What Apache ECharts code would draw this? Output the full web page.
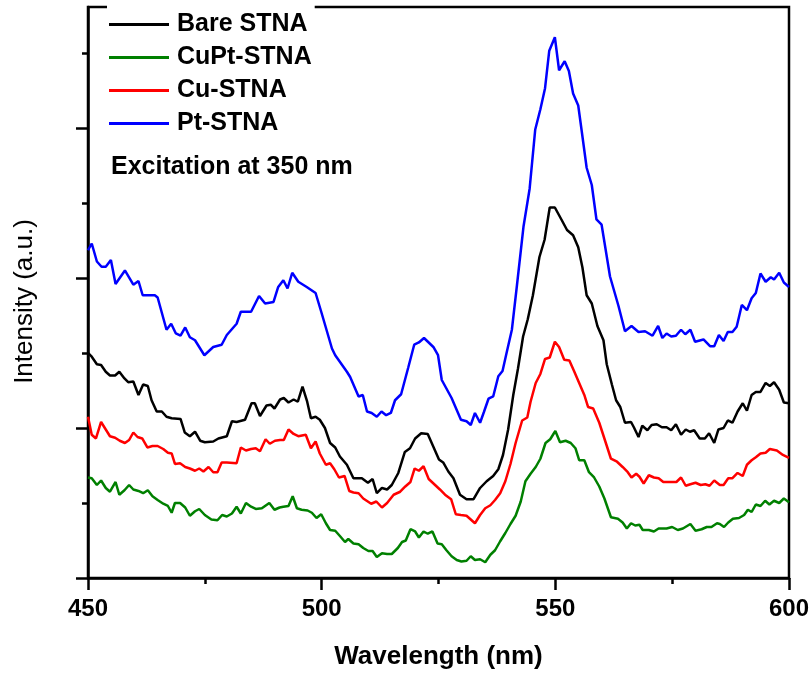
<!DOCTYPE html>
<html>
<head>
    <meta charset="utf-8"/>
    <title>PL spectra</title>
    <script src="https://cdn.jsdelivr.net/npm/echarts@6/dist/echarts.min.js"></script>
    <style>
        html, body { margin: 0; padding: 0; background: #fff; }
        #chart { width: 811px; height: 676px; }
    </style>
</head>
<body>
<div id="chart"></div>
<script>
    // wavelength (nm), intensity (a.u.)
    var bareSTNA = [[450,3.00],[450.8,2.95],[451.9,2.85],[452.8,2.84],[453.8,2.75],[454.7,2.70],[455.8,2.70],[456.7,2.75],[457.8,2.66],[458.6,2.61],[459.7,2.62],[460.8,2.44],[461.8,2.58],[462.8,2.56],[463.6,2.37],[464.7,2.22],[465.8,2.22],[466.8,2.15],[467.9,2.13],[469.8,2.12],[470.7,1.94],[471.8,1.89],[472.9,1.95],[474.0,1.83],[475.0,1.81],[476.8,1.82],[477.9,1.86],[479.7,1.89],[480.8,2.09],[481.8,2.08],[483.6,2.11],[485.0,2.33],[485.7,2.33],[486.8,2.16],[488.2,2.30],[489.1,2.31],[489.9,2.26],[491.1,2.38],[491.9,2.40],[492.9,2.34],[494.0,2.38],[494.9,2.35],[495.9,2.55],[496.9,2.35],[497.7,2.13],[498.7,2.15],[499.6,2.11],[500.7,2.00],[501.8,1.80],[502.9,1.74],[503.9,1.62],[505.4,1.51],[506.8,1.33],[508.6,1.33],[509.9,1.27],[510.9,1.32],[511.8,1.13],[512.9,1.20],[514.0,1.18],[515.0,1.24],[516.4,1.40],[517.8,1.68],[518.9,1.73],[520.0,1.86],[521.3,1.93],[522.7,1.92],[523.9,1.75],[525.1,1.58],[526.0,1.54],[527.1,1.42],[528.2,1.33],[529.6,1.11],[531.0,1.05],[532.5,1.05],[533.9,1.20],[535.3,1.29],[536.7,1.36],[537.8,1.45],[538.8,1.64],[539.9,1.98],[541.0,2.44],[542.0,2.79],[543.1,3.22],[544.1,3.45],[545.2,3.77],[546.6,4.28],[547.7,4.51],[548.8,4.94],[549.9,4.94],[551.3,4.78],[552.5,4.64],[553.8,4.57],[554.9,4.41],[555.8,4.14],[556.7,3.77],[557.8,3.66],[559.0,3.36],[560.3,3.17],[561.0,2.85],[562.1,2.58],[563.0,2.37],[563.9,2.28],[564.9,2.07],[566.2,2.08],[566.8,2.01],[567.8,1.88],[568.6,2.03],[569.7,1.97],[570.6,2.04],[571.7,2.05],[572.8,2.01],[573.8,2.01],[574.8,1.97],[575.8,2.05],[576.9,1.91],[577.9,1.98],[578.8,1.95],[579.7,1.97],[580.9,1.86],[582.0,1.86],[582.9,1.93],[584.0,1.80],[584.9,1.98],[586.0,2.00],[586.9,2.10],[587.9,2.07],[589.0,2.22],[590.1,2.33],[591.0,2.23],[592.0,2.44],[592.9,2.48],[593.9,2.48],[595.0,2.60],[595.9,2.56],[596.8,2.61],[597.9,2.51],[598.9,2.34],[600,2.33]];

    var cuptSTNA = [[450,1.34],[450.8,1.33],[451.9,1.24],[452.8,1.30],[453.8,1.20],[454.7,1.15],[455.9,1.28],[456.7,1.11],[457.8,1.17],[458.8,1.24],[459.7,1.18],[460.8,1.16],[461.8,1.13],[462.8,1.17],[463.8,1.09],[464.9,1.04],[466.1,0.99],[467.1,0.96],[467.9,0.87],[468.6,1.00],[469.7,1.00],[470.8,0.94],[471.8,0.83],[472.9,0.89],[473.8,0.92],[475.0,0.84],[476.4,0.78],[477.7,0.77],[478.7,0.84],[479.7,0.82],[480.8,0.86],[481.8,0.95],[482.7,0.86],[483.8,1.00],[484.9,0.95],[485.9,0.92],[487.2,0.93],[488.8,1.00],[489.9,0.91],[491.0,0.94],[491.8,0.95],[492.9,0.96],[493.8,1.09],[494.7,0.93],[495.7,0.91],[497.0,0.90],[497.9,0.87],[498.9,0.80],[499.9,0.85],[500.9,0.73],[501.8,0.64],[502.9,0.63],[503.9,0.56],[505.0,0.48],[505.7,0.52],[506.8,0.46],[507.9,0.45],[508.9,0.40],[510.0,0.36],[510.9,0.36],[511.8,0.28],[512.9,0.33],[514.0,0.32],[515.0,0.32],[516.3,0.40],[517.2,0.48],[518.0,0.50],[519.0,0.65],[520.0,0.62],[520.8,0.54],[521.8,0.62],[522.7,0.59],[523.7,0.62],[524.8,0.46],[525.7,0.45],[526.7,0.37],[527.8,0.29],[528.9,0.24],[529.9,0.22],[531.0,0.23],[531.9,0.29],[532.8,0.24],[533.9,0.25],[535.0,0.21],[536.1,0.31],[537.1,0.37],[538.2,0.49],[539.3,0.60],[540.4,0.72],[541.5,0.83],[542.6,1.02],[543.6,1.29],[544.7,1.39],[545.8,1.48],[546.8,1.59],[547.9,1.80],[548.9,1.85],[550.0,1.96],[551.0,1.81],[552.2,1.83],[553.3,1.80],[554.3,1.73],[555.1,1.57],[556.2,1.57],[557.2,1.41],[558.3,1.34],[559.4,1.22],[560.5,1.06],[561.9,0.81],[563.4,0.79],[564.4,0.74],[565.3,0.66],[566.2,0.73],[567.1,0.70],[568.0,0.71],[568.7,0.64],[570.0,0.64],[571.1,0.62],[572.1,0.66],[573.8,0.66],[575.0,0.68],[576.2,0.64],[577.3,0.66],[578.9,0.72],[580.0,0.63],[581.3,0.65],[582.4,0.68],[583.4,0.68],[584.6,0.73],[585.2,0.72],[586.1,0.68],[587.0,0.74],[588.0,0.79],[589.3,0.80],[590.4,0.84],[591.2,0.91],[592.0,0.88],[592.9,0.98],[593.9,0.96],[594.9,1.03],[595.8,0.98],[596.8,1.03],[597.9,1.00],[598.9,1.06],[600,1.01]];

    var cuSTNA = [[450,2.15],[450.8,1.91],[451.7,1.86],[452.8,2.08],[453.8,1.98],[454.7,1.89],[455.8,1.87],[456.8,1.83],[457.9,1.80],[458.8,1.84],[459.7,1.94],[460.6,1.88],[461.6,1.86],[462.7,1.74],[463.8,1.76],[464.9,1.76],[466.1,1.72],[467.1,1.67],[467.9,1.66],[468.6,1.52],[469.7,1.53],[470.8,1.48],[471.8,1.46],[472.9,1.43],[473.8,1.46],[474.7,1.42],[475.8,1.48],[476.8,1.41],[477.7,1.41],[478.6,1.54],[479.7,1.54],[481.8,1.53],[482.7,1.74],[483.8,1.70],[484.9,1.72],[485.9,1.73],[486.8,1.69],[488.0,1.85],[488.9,1.79],[490.0,1.83],[491.1,1.84],[491.9,1.84],[492.9,1.98],[494.0,1.92],[495.0,1.89],[496.6,1.91],[497.7,1.73],[498.7,1.82],[499.6,1.66],[500.9,1.51],[501.8,1.53],[502.7,1.45],[503.7,1.34],[504.9,1.36],[505.9,1.16],[506.8,1.14],[507.9,1.13],[508.9,1.06],[510.6,0.99],[511.7,1.02],[512.9,0.94],[514.0,1.00],[515.4,1.11],[516.8,1.15],[517.9,1.22],[519.0,1.28],[519.9,1.46],[520.8,1.43],[521.8,1.49],[522.9,1.32],[524.1,1.25],[525.3,1.18],[526.4,1.11],[527.7,1.05],[528.7,0.85],[529.8,0.84],[531.0,0.83],[532.8,0.73],[533.9,0.84],[535.0,0.93],[536.1,0.97],[537.1,1.04],[538.2,1.13],[539.3,1.29],[540.4,1.52],[541.5,1.80],[542.9,2.10],[544.0,2.14],[544.7,2.35],[545.8,2.60],[546.8,2.72],[547.8,2.92],[548.8,2.94],[549.9,3.15],[550.8,3.08],[551.9,2.91],[553.0,2.90],[554.0,2.76],[555.1,2.60],[556.2,2.44],[557.0,2.28],[558.1,2.26],[559.4,2.07],[560.6,1.84],[561.9,1.59],[563.2,1.55],[564.4,1.48],[565.5,1.41],[566.3,1.34],[567.3,1.39],[568.0,1.35],[568.9,1.26],[570.0,1.37],[571.1,1.34],[572.1,1.33],[573.1,1.28],[574.3,1.28],[575.9,1.28],[576.9,1.34],[577.9,1.23],[578.9,1.25],[580.0,1.27],[581.1,1.24],[582.1,1.25],[583.0,1.23],[584.0,1.30],[585.2,1.24],[586.0,1.24],[587.0,1.33],[587.9,1.33],[589.0,1.40],[590.1,1.36],[591.0,1.51],[592.0,1.57],[592.9,1.61],[593.9,1.66],[595.0,1.67],[595.9,1.72],[597.4,1.70],[598.7,1.64],[600,1.60]];

    var ptSTNA = [[450,4.37],[450.8,4.46],[451.9,4.22],[452.9,4.15],[453.8,4.15],[454.9,4.24],[455.9,3.92],[457.9,4.10],[459.7,3.91],[460.8,3.96],[461.7,3.77],[464.3,3.77],[464.9,3.74],[466.8,3.31],[467.8,3.39],[468.8,3.26],[469.8,3.23],[470.8,3.34],[471.8,3.21],[472.9,3.17],[474.9,2.97],[476.8,3.08],[478.6,3.11],[479.7,3.24],[481.8,3.39],[482.7,3.55],[484.9,3.55],[486.6,3.76],[487.9,3.66],[489.7,3.68],[490.7,3.88],[491.8,3.97],[492.7,3.86],[493.7,4.07],[495.0,3.95],[496.8,3.88],[498.7,3.80],[500.0,3.53],[502.2,3.06],[502.9,2.97],[505.4,2.75],[506.1,2.68],[507.9,2.42],[508.8,2.44],[509.7,2.22],[510.7,2.20],[511.8,2.15],[512.8,2.22],[513.8,2.17],[514.8,2.20],[515.7,2.37],[517.0,2.45],[518.5,2.80],[519.8,3.11],[520.8,3.14],[521.9,3.20],[523.9,3.08],[524.9,2.97],[525.7,2.64],[527.8,2.40],[529.8,2.11],[531.0,2.09],[531.9,2.04],[532.8,2.20],[533.9,2.07],[534.7,2.21],[535.7,2.39],[536.7,2.42],[537.8,2.69],[538.7,2.76],[539.6,3.01],[540.7,3.31],[541.8,3.91],[543.2,4.69],[544.5,5.19],[545.7,5.98],[546.8,6.25],[547.8,6.53],[548.7,7.03],[549.9,7.21],[550.8,6.77],[552.0,6.89],[552.9,6.76],[553.8,6.46],[554.9,6.30],[555.6,5.98],[556.7,5.47],[557.8,5.24],[558.8,4.78],[559.9,4.71],[561.7,4.02],[563.5,3.63],[564.9,3.29],[566.3,3.36],[567.8,3.28],[569.2,3.29],[570.8,3.23],[572.0,3.36],[572.9,3.20],[573.8,3.26],[574.8,3.22],[575.8,3.23],[576.9,3.31],[577.8,3.25],[578.9,3.31],[579.9,3.15],[581.7,3.18],[583.1,3.09],[584.0,3.09],[585.0,3.24],[586.0,3.16],[586.9,3.28],[587.9,3.28],[588.8,3.35],[589.9,3.64],[591.0,3.57],[592.0,3.73],[592.9,3.80],[593.9,4.06],[595.0,3.95],[596.1,4.01],[596.8,3.98],[597.9,4.07],[598.9,3.94],[600,3.88]];

    var seriesNames = ['Bare STNA', 'CuPt-STNA', 'Cu-STNA', 'Pt-STNA'];
    var seriesColors = ['#000000', '#008000', '#ff0000', '#0000ff'];
    var seriesData = [bareSTNA, cuptSTNA, cuSTNA, ptSTNA];

    var xTicks = [450, 500, 550, 600];
    var yMajorTicks = [0, 2, 4, 6];
    var yMinorTicks = [1, 3, 5, 7];
    var yMax = 7.613;

    var font = 'Liberation Sans, Arial, sans-serif';

    var Mychart = echarts.init(document.getElementById('chart'));
    var option = {
        animation: false,
        backgroundColor: '#fff',
        color: seriesColors,
        grid: {
            left: 88,
            right: 22,
            top: 7,
            bottom: 98,
            show: true,
            borderColor: '#000',
            borderWidth: 2.5,
            outerBoundsMode: 'none'
        },
        legend: {
            orient: 'vertical',
            left: 107,
            top: 4,
            padding: [8, 3, 4, 2],
            backgroundColor: '#fff',
            icon: 'rect',
            itemWidth: 60,
            itemHeight: 3,
            itemGap: 8,
            textStyle: {
                fontFamily: font,
                fontSize: 25,
                fontWeight: 'bold',
                color: '#000',
                lineHeight: 25,
                padding: [0, 0, 0, 3]
            },
            data: seriesNames
        },
        graphic: [{
            type: 'text',
            left: 111,
            top: 155,
            style: {
                text: 'Excitation at 350 nm',
                fontFamily: font,
                fontSize: 25,
                fontWeight: 'bold',
                fill: '#000'
            }
        }],
        xAxis: {
            type: 'value',
            min: xTicks[0],
            max: xTicks[xTicks.length - 1],
            interval: 50,
            name: 'Wavelength (nm)',
            nameLocation: 'middle',
            nameGap: 66,
            nameTextStyle: {fontFamily: font, fontSize: 26, fontWeight: 'bold', color: '#000'},
            axisLine: {lineStyle: {color: '#000', width: 2.5}},
            axisTick: {show: true, length: 12, lineStyle: {color: '#000', width: 2.5}},
            minorTick: {show: true, splitNumber: 2, length: 6, lineStyle: {color: '#000', width: 2.5}},
            axisLabel: {fontFamily: font, fontSize: 24, fontWeight: 'bold', color: '#000', margin: 19},
            splitLine: {show: false}
        },
        yAxis: [{
            type: 'value',
            position: 'left',
            min: 0,
            max: yMax,
            name: 'Intensity (a.u.)',
            nameLocation: 'middle',
            nameGap: 50,
            nameTextStyle: {fontFamily: font, fontSize: 26, color: '#000', padding: [0, 18, 0, 0]},
            axisLine: {show: true, lineStyle: {color: '#000', width: 2.5}},
            axisTick: {show: true, length: 12, customValues: yMajorTicks, lineStyle: {color: '#000', width: 2.5}},
            axisLabel: {show: false},
            splitLine: {show: false}
        }, {
            type: 'value',
            position: 'left',
            min: 0,
            max: yMax,
            axisLine: {show: false},
            axisTick: {show: true, length: 6, customValues: yMinorTicks, lineStyle: {color: '#000', width: 2.5}},
            axisLabel: {show: false},
            splitLine: {show: false}
        }],
        series: seriesNames.map(function (name, i) {
            return {
                name: name,
                type: 'line',
                showSymbol: false,
                symbol: 'none',
                lineStyle: {width: 2.5, color: seriesColors[i]},
                data: seriesData[i]
            };
        })
    };
    Mychart.setOption(option);
</script>
</body>
</html>
